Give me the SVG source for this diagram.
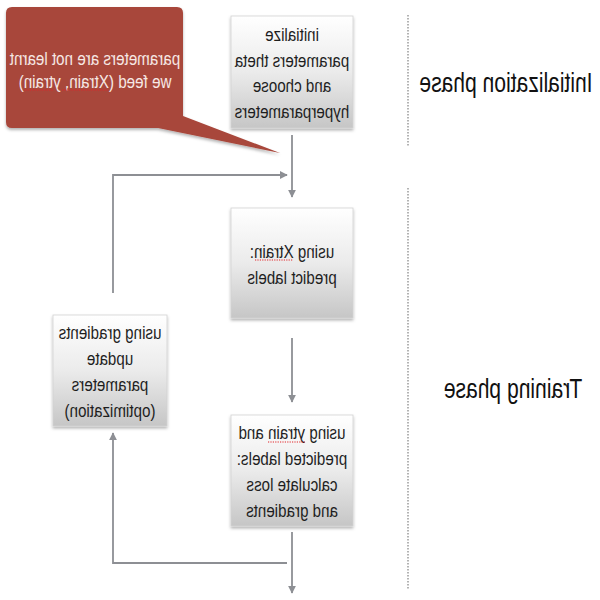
<svg xmlns="http://www.w3.org/2000/svg" width="600" height="600" viewBox="0 0 600 600">
<style>
.box{fill:url(#g);stroke:#d2d2d2;stroke-width:0.8;filter:url(#sh)}
.t{font-family:"Liberation Sans",Arial,sans-serif;font-size:18.5px;fill:#1e1e1e;text-anchor:middle}
.ph{font-family:"Liberation Sans",Arial,sans-serif;font-size:27px;fill:#111;text-anchor:middle}
.ct{font-family:"Liberation Sans",Arial,sans-serif;font-size:19px;fill:#f6e8e4;text-anchor:middle}
.c{fill:none;stroke:#8d8f94;stroke-width:1.8}
.dot{fill:none;stroke:#9a9a9a;stroke-width:1.5;stroke-dasharray:1.5 1.5}
.sp{stroke:#e0262a;stroke-width:1.2;stroke-dasharray:1.2 1.2}
</style>
<defs>
<linearGradient id="g" x1="0" y1="0" x2="0" y2="1">
<stop offset="0" stop-color="#ffffff"/>
<stop offset="0.5" stop-color="#ebebeb"/>
<stop offset="1" stop-color="#c6c6c6"/>
</linearGradient>
<filter id="sh" x="-10%" y="-10%" width="120%" height="125%">
<feDropShadow dx="0" dy="2" stdDeviation="1.5" flood-color="#000" flood-opacity="0.3"/>
</filter>
<marker id="a" viewBox="0 0 10 10" refX="9" refY="5" markerWidth="4.5" markerHeight="4.5" orient="auto">
<path d="M0,0 L10,5 L0,10 z" fill="#8d8f94"/>
</marker>
</defs>
<rect width="600" height="600" fill="#ffffff"/>

<g id="dividers">
<line class="dot" x1="408" y1="15" x2="408" y2="147"/>
<line class="dot" x1="408" y1="188" x2="408" y2="590"/>
</g>

<g id="connectors">
<path class="c" d="M292,135 V197" marker-end="url(#a)"/>
<path class="c" d="M113,293 V175 H287" marker-end="url(#a)"/>
<path class="c" d="M292,338 V402" marker-end="url(#a)"/>
<path class="c" d="M292,532 V593" marker-end="url(#a)"/>
<path class="c" d="M287,563 H113 V433" marker-end="url(#a)"/>
</g>

<g id="callout">
<path d="M12,7 H177 Q183,7 183,13 V116 L280,153 L158,128 H12 Q6,128 6,122 V13 Q6,7 12,7 Z" fill="#a8463a" filter="url(#sh)"/>
<text class="ct" transform="translate(95,65) scale(-0.8,1)">parameters are not learnt</text>
<text class="ct" transform="translate(95,88) scale(-0.8,1)">we feed (Xtrain, ytrain)</text>
<line class="sp" x1="25" y1="90" x2="53" y2="90"/>
<line class="sp" x1="62" y1="90" x2="108" y2="90"/>
</g>

<g id="init">
<rect class="box" x="231" y="16" width="122" height="112"/>
<text class="t" transform="translate(292,41) scale(-0.82,1)">initialize</text>
<text class="t" transform="translate(292,67) scale(-0.82,1)">parameters theta</text>
<text class="t" transform="translate(292,92) scale(-0.82,1)">and choose</text>
<text class="t" transform="translate(292,118) scale(-0.82,1)">hyperparameters</text>
</g>

<g id="predict">
<rect class="box" x="231" y="208" width="122" height="110"/>
<text class="t" transform="translate(292,258) scale(-0.82,1)">using Xtrain:</text>
<text class="t" transform="translate(292,284) scale(-0.82,1)">predict labels</text>
<line class="sp" x1="255" y1="260" x2="293" y2="260"/>
</g>

<g id="loss">
<rect class="box" x="231" y="415" width="122" height="111"/>
<text class="t" transform="translate(292,439) scale(-0.82,1)">using ytrain and</text>
<text class="t" transform="translate(292,465) scale(-0.82,1)">predicted labels:</text>
<text class="t" transform="translate(292,491) scale(-0.82,1)">calculate loss</text>
<text class="t" transform="translate(292,517) scale(-0.82,1)">and gradients</text>
<line class="sp" x1="268" y1="442" x2="305" y2="442"/>
</g>

<g id="update">
<rect class="box" x="53" y="315" width="114" height="111"/>
<text class="t" transform="translate(110,339) scale(-0.82,1)">using gradients</text>
<text class="t" transform="translate(110,365) scale(-0.82,1)">update</text>
<text class="t" transform="translate(110,391) scale(-0.82,1)">parameters</text>
<text class="t" transform="translate(110,417) scale(-0.82,1)">(optimization)</text>
</g>

<g id="labels">
<text class="ph" transform="translate(506,92) scale(-0.78,1)">Initialization phase</text>
<text class="ph" transform="translate(513,398) scale(-0.78,1)">Training phase</text>
</g>
</svg>
